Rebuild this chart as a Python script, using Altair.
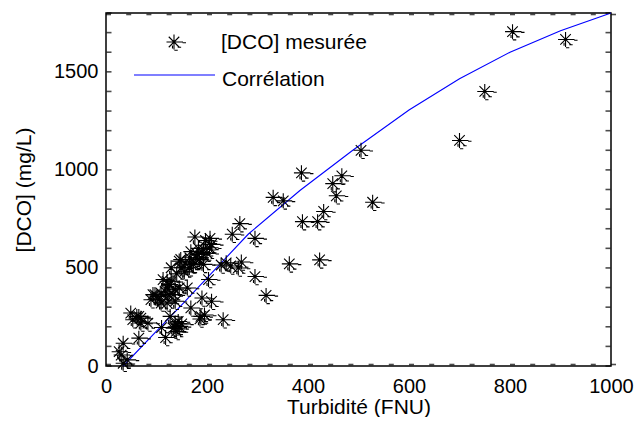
import altair as alt
import pandas as pd

# Measured points: turbidity (FNU) and [DCO] (mg/L)
turb = [805, 910, 750, 700, 505, 528, 387, 467, 449, 456, 431, 419, 389, 331, 351, 363, 423,
        265, 250, 295, 295, 317, 232, 238, 228, 268, 262, 247,
        206, 176, 190, 205, 168, 185, 169, 165, 148, 129, 203, 190, 209, 168, 188, 143, 139,
        118, 110, 127, 113, 97, 105, 117, 125, 133, 145, 89, 49, 65, 53, 83, 65, 34, 26, 30, 42, 34,
        209, 193, 181, 166, 157, 173, 193, 149, 145, 121, 129, 121, 109, 101, 93, 125, 137, 161,
        137, 121, 109, 137, 145, 133, 61, 69, 69, 197, 183, 178, 200, 155, 140, 137, 186, 195, 150]
dco = [1705, 1665, 1400, 1150, 1100, 835, 985, 970, 930, 868, 788, 736, 736, 860, 842, 521, 541,
       726, 672, 651, 456, 360, 236, 526, 515, 530, 500, 510,
       651, 658, 578, 603, 583, 543, 518, 501, 543, 501, 441, 347, 330, 296, 253, 227, 176,
       145, 196, 253, 441, 364, 338, 381, 415, 364, 398, 338, 270, 253, 236, 219, 142, 116, 73, 56, 31, 14,
       620, 595, 569, 552, 526, 518, 518, 501, 535, 432, 432, 398, 372, 355, 364, 364, 389, 398,
       330, 321, 321, 219, 202, 193, 253, 244, 219, 640, 600, 550, 575, 480, 470, 200, 240, 260, 215]

# Correlation curve
curve_x = [34, 100, 150, 204, 282, 384, 488, 600, 700, 800, 900, 1000]
curve_y = [0, 178, 312, 460, 673, 895, 1099, 1305, 1465, 1600, 1710, 1800]

legend_labels = ["[DCO] mesurée", "Corrélation"]

x_ticks = [0, 200, 400, 600, 800, 1000]
y_ticks = [0, 500, 1000, 1500]
x_minor = list(range(0, 1001, 40))
y_minor = list(range(0, 1801, 100))

W, H = 505, 353
FONT = "Liberation Sans"
STAR = ("M0,-1L0,1M-1,0L1.2,0M-0.7,-0.7L0.7,0.7M-0.7,0.7L0.7,-0.7"
        "M1.15,0.1L1.6,0.1M0.5,0.7L0.95,0.7M0.05,1.1L0.5,1.1M-0.2,0.45L-0.2,0.85")

pts = pd.DataFrame({"x": turb, "y": dco})
crv = pd.DataFrame({"x": curve_x, "y": curve_y})
xm = pd.DataFrame({"v": x_minor})
ym = pd.DataFrame({"v": y_minor})

xscale = alt.Scale(domain=[0, 1000], nice=False, zero=False)
yscale = alt.Scale(domain=[0, 1800], nice=False, zero=False)

xaxis = alt.Axis(values=x_ticks, format="d", title="Turbidité (FNU)", grid=False, ticks=False,
                 tickSize=0, domain=False, labelFont=FONT, labelFontSize=20, labelColor="black",
                 labelBaseline="alphabetic", labelPadding=26, labelFlush=False,
                 titleFont=FONT, titleFontSize=21, titleFontWeight="normal", titleColor="black",
                 titleBaseline="alphabetic", titleY=47, titleX=W / 2)
yaxis = alt.Axis(values=y_ticks, format="d", title="[DCO] (mg/L)", grid=False, ticks=False,
                 tickSize=0, domain=False, labelFont=FONT, labelFontSize=20, labelColor="black",
                 labelPadding=8, labelFlush=False,
                 titleFont=FONT, titleFontSize=21, titleFontWeight="normal", titleColor="black",
                 titleBaseline="alphabetic", titleX=-76, titleY=H / 2, titleAngle=-90)

line = alt.Chart(crv).mark_line(color="#0000ff", strokeWidth=1.1).encode(
    x=alt.X("x:Q", scale=xscale, axis=xaxis),
    y=alt.Y("y:Q", scale=yscale, axis=yaxis),
)

points = alt.Chart(pts).mark_point(shape=STAR, size=225, filled=False, color="black",
                                   strokeWidth=1.1, opacity=1).encode(
    x=alt.X("x:Q", scale=xscale),
    y=alt.Y("y:Q", scale=yscale),
)

tick_style = dict(color="black", orient="horizontal", size=5, thickness=1.6)
bottom_ticks = alt.Chart(xm).mark_tick(xOffset=2.5, **tick_style).encode(
    x=alt.X("v:Q", scale=xscale), y=alt.value(H - 1.5))
top_ticks = alt.Chart(xm).mark_tick(xOffset=2.5, **tick_style).encode(
    x=alt.X("v:Q", scale=xscale), y=alt.value(1.5))
left_ticks = alt.Chart(ym).mark_tick(**tick_style).encode(
    y=alt.Y("v:Q", scale=yscale), x=alt.value(3))
right_ticks = alt.Chart(ym).mark_tick(**tick_style).encode(
    y=alt.Y("v:Q", scale=yscale), x=alt.value(W - 3))

leg_star = alt.Chart(pts).mark_point(shape=STAR, size=225, filled=False, color="black",
                                     strokeWidth=1.1, opacity=1).encode(
    x=alt.value(68), y=alt.value(29)).transform_filter("datum.x == 805")
leg_line = alt.Chart(crv).mark_rule(color="#0000ff", strokeWidth=1.1).encode(
    x=alt.value(28), x2=alt.value(109), y=alt.value(62)).transform_filter("datum.x == 1000")
leg_t1 = alt.Chart(crv).mark_text(align="left", baseline="alphabetic", font=FONT, fontSize=21,
                                  color="black").encode(
    x=alt.value(115), y=alt.value(36), text=alt.value(legend_labels[0])).transform_filter("datum.x == 1000")
leg_t2 = alt.Chart(crv).mark_text(align="left", baseline="alphabetic", font=FONT, fontSize=21,
                                  color="black").encode(
    x=alt.value(116), y=alt.value(73), text=alt.value(legend_labels[1])).transform_filter("datum.x == 1000")

chart = alt.layer(
    line, points, bottom_ticks, top_ticks, left_ticks, right_ticks,
    leg_star, leg_line, leg_t1, leg_t2
).properties(
    width=W, height=H,
    autosize=alt.AutoSizeParams(type="none"),
    padding={"left": 98, "top": 5, "right": 23, "bottom": 51},
    background="white",
).configure_view(stroke="black", strokeWidth=1.5)

chart.save("out.html", embed_options={"renderer": "svg", "actions": False})
